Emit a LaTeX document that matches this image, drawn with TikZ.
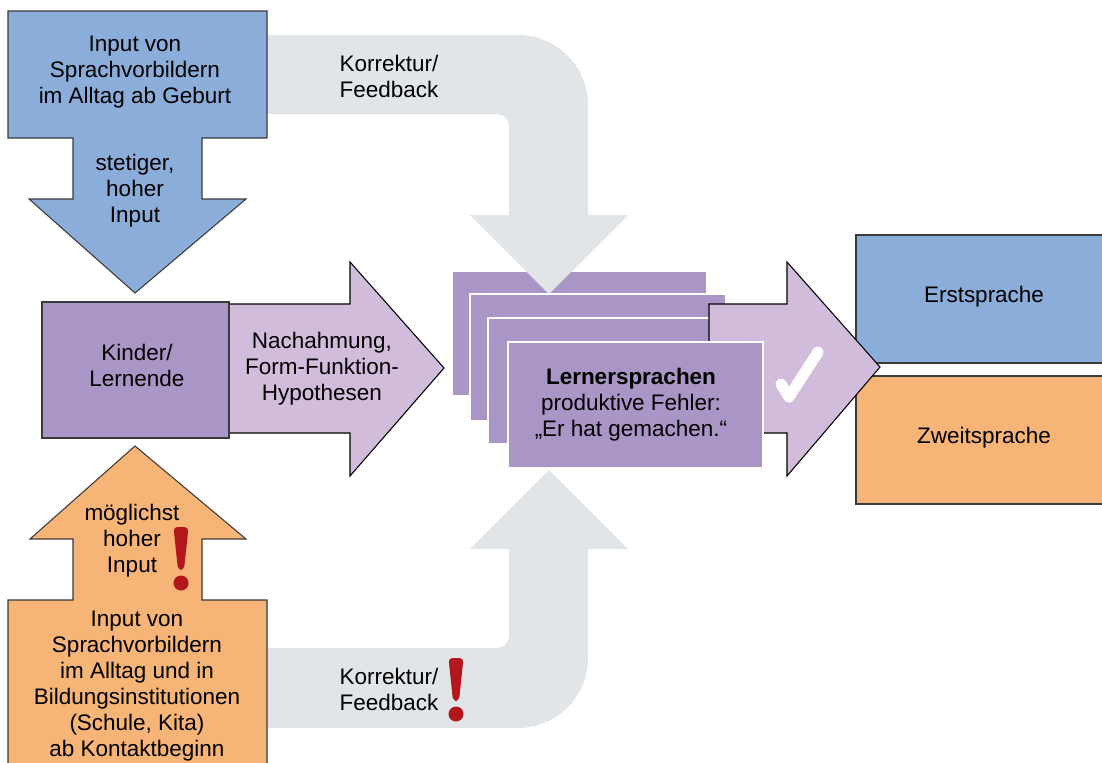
\documentclass[tikz,border=0pt]{standalone}
\usepackage{fontspec}
\setmainfont{Liberation Sans}
\usetikzlibrary{positioning}

\definecolor{inblau}{HTML}{8BADDA}
\definecolor{inorange}{HTML}{F6B477}
\definecolor{lila}{HTML}{A995C6}
\definecolor{hellila}{HTML}{D2BCDB}
\definecolor{bandgrau}{HTML}{E1E5E8}
\definecolor{signalrot}{HTML}{B3171C}
\definecolor{rand}{HTML}{3A3A3A}

\tikzset{
  every node/.style={
    font=\fontsize{12.8}{14.8}\selectfont,
    align=center,
    inner sep=0pt
  },
  umriss/.style={draw=rand, line width=0.6pt},
  karte/.style={fill=lila, draw=white, line width=1pt},
  band/.style={fill=bandgrau},
  ausruf/.style={fill=signalrot}
}

% Ausrufezeichen, Oberkante bei (#1,#2)
\newcommand{\ausrufezeichen}[2]{%
  \begin{scope}[shift={(#1,#2)}]
    \fill[ausruf, rounded corners=0.08cm] (-7.5,0) -- (7.5,0) -- (3,43) -- (-3,43) -- cycle;
    \fill[ausruf] (0,56) circle (7.5);
  \end{scope}}

\begin{document}
\begin{tikzpicture}[x=0.02cm, y=-0.02cm, line width=0.5pt]

    \useasboundingbox (0,0) rectangle (1102,762);
    \clip (0,0) rectangle (1102,762);

    %-------------------------
    % Korrektur-Baender (grau)
    %-------------------------
    \fill[band] (200,728) -- (518,728) arc (90:0:70) -- (588,549) -- (628,549)
        -- (549,470) -- (470,549) -- (509,549) -- (509,636) arc (0:90:12)
        -- (200,648) -- cycle;

    \fill[karte] (452,271) rectangle (707,396);

    \fill[band] (200,35) -- (518,35) arc (-90:0:70) -- (588,215) -- (628,215)
        -- (549,294) -- (470,215) -- (509,215) -- (509,126) arc (0:-90:12)
        -- (200,114) -- cycle;

    %-------------------------
    % Lernersprachen (Karten)
    %-------------------------
    \filldraw[karte] (470,294) rectangle (726,421);
    \filldraw[karte] (488,318) rectangle (744,444);

    %-------------------------
    % Erst- und Zweitsprache
    %-------------------------
    \filldraw[umriss, fill=inblau] (856,235) rectangle (1120,363);
    \filldraw[umriss, fill=inorange] (856,376) rectangle (1120,504);

    \filldraw[umriss, draw=black, fill=hellila] (709,304) -- (787,304) -- (787,262)
        -- (880,367) -- (787,476) -- (787,433) -- (709,433) -- cycle;

    \filldraw[karte] (508,342) rectangle (763,468);

    \draw[white, line width=6.3pt, line cap=round, line join=round]
        (781,384) -- (789,397) -- (818,352);

    %-------------------------
    % Input oben / unten
    %-------------------------
    \filldraw[umriss, fill=inblau] (8,11) -- (267,11) -- (267,138) -- (202,138)
        -- (202,199) -- (246,199) -- (135,293) -- (29,199) -- (73,199)
        -- (73,138) -- (8,138) -- cycle;

    \filldraw[umriss, fill=inorange] (8,780) -- (8,600) -- (73,600) -- (73,539)
        -- (30,539) -- (135,446) -- (246,539) -- (202,539) -- (202,600)
        -- (267,600) -- (267,780) -- cycle;

    %-------------------------
    % Kinder / Nachahmung
    %-------------------------
    \filldraw[umriss, draw=black, fill=hellila] (229,304) -- (350,304) -- (350,262)
        -- (444,368) -- (350,476) -- (350,433) -- (229,433) -- cycle;
    \filldraw[umriss, fill=lila] (42,302) rectangle (229,438);

    \ausrufezeichen{181}{527}
    \ausrufezeichen{456}{658}

    %-------------------------
    % Texte
    %-------------------------
    \node (inputOben) at (135,72) {Input von\\Sprachvorbildern\\im Alltag ab Geburt};
    \node (stetig) at (135,191) {stetiger,\\hoher\\Input};
    \node (korrOben) at (389,76) {Korrektur/\\Feedback};
    \node (kinder) at (137,365) {Kinder/\\Lernende};
    \node (nachahm) at (322,369) {Nachahmung,\\Form-Funktion-\\Hypothesen};
    \node (lerner) at (631,405) {\textbf{Lernersprachen}\\produktive Fehler:\\„Er hat gemachen.“};
    \node (erst) at (984,297) {Erstsprache};
    \node (zweit) at (984,438) {Zweitsprache};
    \node (moeglich) at (132,541) {möglichst\\hoher\\Input};
    \node (inputUnten) at (137,686) {Input von\\Sprachvorbildern\\im Alltag und in\\Bildungsinstitutionen\\(Schule, Kita)\\ab Kontaktbeginn};
    \node (korrUnten) at (389,689) {Korrektur/\\Feedback};

\end{tikzpicture}
\end{document}
